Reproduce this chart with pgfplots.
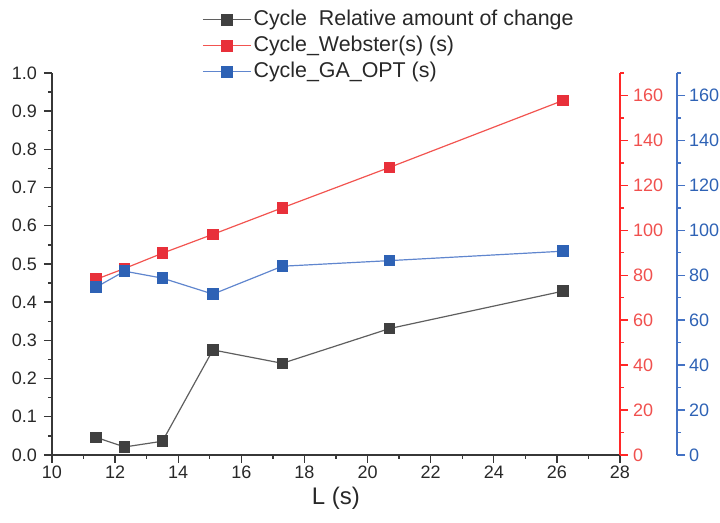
\documentclass[border=0pt]{standalone}
\usepackage{fontspec}
\setmainfont{Liberation Sans}
\usepackage{pgfplots}
\pgfplotsset{compat=1.18}
\definecolor{cblack}{RGB}{95,95,95}
\definecolor{cblackm}{RGB}{64,64,64}
\definecolor{cred}{RGB}{242,84,80}
\definecolor{credm}{RGB}{232,48,58}
\definecolor{credax}{RGB}{255,40,40}
\definecolor{credlab}{RGB}{240,80,78}
\definecolor{cblue}{RGB}{96,134,206}
\definecolor{cbluem}{RGB}{46,98,181}
\definecolor{cblueax}{RGB}{68,114,196}
\definecolor{caxis}{RGB}{55,55,55}
\definecolor{ctext}{RGB}{40,40,40}

\pgfplotsset{
  common/.style={
    scale only axis, width=284pt, height=191pt,
    xmin=10, xmax=28,
    /pgf/number format/assume math mode=true,
    tick align=outside,
    major tick length=4pt, minor tick length=2pt,
    ticklabel style={font=\fontsize{9}{10}\selectfont},
    axis line style={-, line width=0.75pt},
    tick style={line width=0.7pt},
  },
}

\begin{document}
\begin{tikzpicture}
\begin{axis}[common,
  axis x line*=bottom, axis y line*=left,
  axis line style={caxis},
  tick style={caxis},
  ticklabel style={text=ctext},
  ymin=0, ymax=1,
  ytick={0,0.1,0.2,0.3,0.4,0.5,0.6,0.7,0.8,0.9,1.0},
  minor y tick num=1,
  xtick={10,12,14,16,18,20,22,24,26,28},
  minor x tick num=1,
  yticklabel style={/pgf/number format/.cd, fixed, fixed zerofill, precision=1},
  xticklabel style={yshift=2pt},
  xlabel={L (s)},
  xlabel style={font=\fontsize{12}{14}\selectfont, text=ctext, yshift=2.5pt},
  legend cell align=left,
  legend style={at={(rel axis cs:0.2535,1.185)}, anchor=north west, draw=none, fill=none,
    font=\fontsize{10.7}{13}\selectfont, text=ctext, row sep=0pt,
    nodes={text height=8.5pt, text depth=2.5pt, inner sep=1pt},
    /tikz/every even column/.append style={column sep=2pt}},
  legend image code/.code={\draw[mark repeat=2, mark phase=2] plot coordinates {(0pt,0pt) (12pt,0pt) (24pt,0pt)};},
]
\addplot[cblack, line width=0.6pt, mark=square*, mark size=2.6pt,
  mark options={solid, fill=cblackm, draw=cblackm}]
  coordinates {(11.4,0.046) (12.3,0.021) (13.5,0.036) (15.1,0.275) (17.3,0.240) (20.7,0.331) (26.2,0.429)};
\addlegendentry{Cycle\ \ Relative amount of change}
\addlegendimage{cred, line width=0.6pt, mark=square*, mark size=2.6pt, mark options={solid, fill=credm, draw=credm}}
\addlegendentry{Cycle\_Webster(s) (s)}
\addlegendimage{cblue, line width=0.6pt, mark=square*, mark size=2.6pt, mark options={solid, fill=cbluem, draw=cbluem}}
\addlegendentry{Cycle\_GA\_OPT (s)}
\end{axis}

\begin{axis}[common,
  axis x line=none, axis y line*=right,
  ymin=0, ymax=170,
  ytick={0,20,40,60,80,100,120,140,160},
  minor ytick={10,30,50,70,90,110,130,150,170},
  y axis line style={credax},
  ytick style={credax},
  yticklabel style={text=credlab, xshift=-1pt},
]
\addplot[cred, line width=0.6pt, mark=square*, mark size=2.6pt,
  mark options={solid, fill=credm, draw=credm}]
  coordinates {(11.4,78.2) (12.3,83.0) (13.5,89.8) (15.1,98.2) (17.3,110.0) (20.7,128.0) (26.2,157.8)};
\addplot[cblue, line width=0.6pt, mark=square*, mark size=2.6pt,
  mark options={solid, fill=cbluem, draw=cbluem}]
  coordinates {(11.4,74.7) (12.3,81.8) (13.5,78.7) (15.1,71.6) (17.3,84.0) (20.7,86.5) (26.2,90.7)};
\end{axis}

\begin{axis}[common, xshift=28.5pt,
  axis x line=none, axis y line*=right,
  ymin=0, ymax=170,
  ytick={0,20,40,60,80,100,120,140,160},
  minor ytick={10,30,50,70,90,110,130,150,170},
  y axis line style={cblueax},
  ytick style={cblueax},
  yticklabel style={text=cbluem, xshift=-1.5pt},
]
\end{axis}
\pgfresetboundingbox
\useasboundingbox (-26pt,-34pt) rectangle (334pt,227.5pt);
\end{tikzpicture}
\end{document}
